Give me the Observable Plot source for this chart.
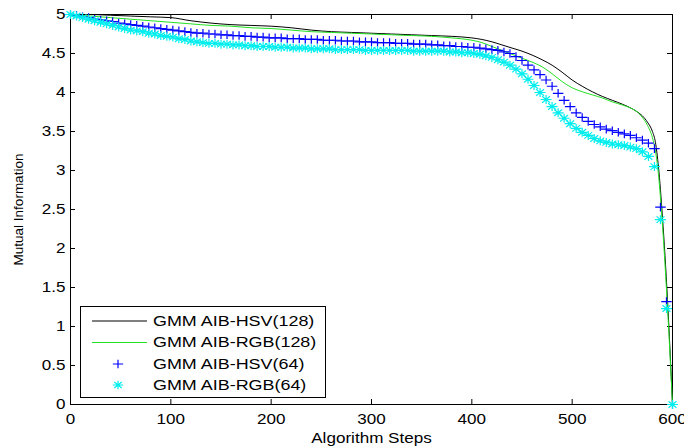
<!DOCTYPE html>
<html><head><meta charset="utf-8">
<script src="https://cdn.jsdelivr.net/npm/d3@7"></script>
<script src="https://cdn.jsdelivr.net/npm/@observablehq/plot@0.6"></script>
<style>
body{margin:0;background:#fff}
#chart{width:684px;height:448px}
</style>
</head><body><div id="chart"></div>
<script>
const xTicks = [0,100,200,300,400,500,600];
const yTicks = [0,0.5,1,1.5,2,2.5,3,3.5,4,4.5,5];
const seriesNames = ["GMM AIB-HSV(128)","GMM AIB-RGB(128)","GMM AIB-HSV(64)","GMM AIB-RGB(64)"];
const xLabel = "Algorithm Steps";
const yLabel = "Mutual Information";

const steps128 = [0,20,40,60,80,100,120,140,160,180,200,220,240,260,280,300,320,340,360,380,400,410,420,430,440,450,460,470,480,490,500,510,520,530,540,550,560,565,570,575,580,583,586,590,595,600];
const hsv128 = [5.00,5.00,4.99,4.98,4.97,4.96,4.92,4.89,4.87,4.86,4.85,4.83,4.80,4.78,4.77,4.76,4.75,4.74,4.73,4.72,4.70,4.68,4.65,4.61,4.57,4.53,4.48,4.42,4.35,4.26,4.16,4.08,4.01,3.95,3.90,3.85,3.79,3.75,3.70,3.62,3.50,3.36,3.05,2.40,1.35,0.00];
const rgb128 = [5.00,4.98,4.96,4.94,4.92,4.90,4.88,4.86,4.85,4.83,4.82,4.80,4.78,4.77,4.76,4.75,4.74,4.73,4.72,4.70,4.67,4.64,4.59,4.54,4.49,4.44,4.39,4.33,4.24,4.14,4.06,4.01,3.97,3.93,3.88,3.84,3.79,3.75,3.68,3.58,3.42,3.25,2.95,2.30,1.25,0.00];

const steps64 = [0,6,12,18,24,30,36,42,48,54,60,66,72,78,84,90,96,102,108,114,120,126,132,138,144,150,156,162,168,174,180,186,192,198,204,210,216,222,228,234,240,246,252,258,264,270,276,282,288,294,300,306,312,318,324,330,336,342,348,354,360,366,372,378,384,390,396,402,408,414,420,426,432,438,444,450,456,462,468,474,480,486,492,498,504,510,516,522,528,534,540,546,552,558,564,570,576,582,588,594,600];
const hsv64 = [5.00,4.99,4.97,4.96,4.94,4.93,4.92,4.91,4.89,4.88,
4.87,4.86,4.85,4.84,4.83,4.82,4.81,4.80,4.79,4.78,
4.77,4.76,4.76,4.75,4.75,4.74,4.74,4.73,4.73,4.72,
4.72,4.71,4.71,4.70,4.70,4.70,4.69,4.69,4.69,4.68,
4.68,4.68,4.67,4.67,4.67,4.66,4.66,4.66,4.65,4.65,
4.65,4.64,4.64,4.64,4.63,4.63,4.63,4.62,4.62,4.62,
4.61,4.61,4.60,4.60,4.59,4.59,4.58,4.58,4.57,4.56,
4.55,4.54,4.52,4.50,4.46,4.41,4.35,4.29,4.23,4.16,
4.08,3.99,3.90,3.82,3.74,3.68,3.63,3.59,3.56,3.53,
3.51,3.49,3.47,3.45,3.42,3.39,3.35,3.28,2.53,1.32,
0.00];
const rgb64 = [5.00,4.98,4.96,4.94,4.92,4.90,4.88,4.86,4.84,4.82,
4.80,4.79,4.78,4.76,4.75,4.73,4.72,4.71,4.69,4.68,
4.66,4.65,4.64,4.63,4.63,4.62,4.62,4.61,4.61,4.60,
4.60,4.59,4.59,4.59,4.58,4.58,4.58,4.57,4.57,4.57,
4.56,4.56,4.56,4.56,4.55,4.55,4.55,4.55,4.55,4.54,
4.54,4.54,4.54,4.54,4.54,4.54,4.54,4.53,4.53,4.53,
4.53,4.53,4.53,4.52,4.52,4.51,4.51,4.50,4.49,4.47,
4.45,4.42,4.39,4.35,4.30,4.24,4.17,4.09,4.00,3.91,
3.82,3.74,3.67,3.60,3.54,3.49,3.45,3.41,3.38,3.36,
3.34,3.33,3.32,3.30,3.28,3.24,3.18,3.05,2.37,1.23,
0.00];

const colors = ["#000000","#22e022","#0000ff","#00eeee"];
const data128 = steps128.map((s,i)=>({s, hsv:hsv128[i], rgb:rgb128[i]}));
const data64 = steps64.map((s,i)=>({s, hsv:hsv64[i], rgb:rgb64[i]}));

const SX = 1.22; // horizontal stretch of the original picture
const SXL = 1.28; // stretch of legend texts
const plusSym = {draw(ctx,size){const r=Math.sqrt(size/Math.PI);ctx.moveTo(-r*SX,0);ctx.lineTo(r*SX,0);ctx.moveTo(0,-r);ctx.lineTo(0,r);}};
const starSym = {draw(ctx,size){const r=Math.sqrt(size/Math.PI);const d=r*0.72;
  ctx.moveTo(-r*SX,0);ctx.lineTo(r*SX,0);ctx.moveTo(0,-r);ctx.lineTo(0,r);
  ctx.moveTo(-d*SX,-d);ctx.lineTo(d*SX,d);ctx.moveTo(-d*SX,d);ctx.lineTo(d*SX,-d);}};

const W=684,H=448,ML=70,MR=12,MT=14,MB=44;
const FW=W-ML-MR, FH=H-MT-MB, TL=5;
const font = "'Liberation Sans', Arial, sans-serif";

const svg = Plot.plot({
  width:W, height:H, marginLeft:ML, marginRight:MR, marginTop:MT, marginBottom:MB,
  x:{domain:[0,600]}, y:{domain:[0,5]},
  style:{fontFamily:font, fontSize:"14px", color:"black", background:"white", overflow:"visible"},
  marks:[
    Plot.axisX({anchor:"bottom", ticks:xTicks, tickSize:0, tickPadding:10, tickFormat:d=>String(d), label:null, fontSize:14}),
    Plot.axisY({anchor:"left", ticks:yTicks, tickSize:0, tickPadding:5, tickFormat:d=>String(d), label:null, fontSize:14}),
    Plot.tickX(xTicks,{x:d=>d, insetTop:FH-TL, stroke:"black"}),
    Plot.tickX(xTicks,{x:d=>d, insetBottom:FH-TL, stroke:"black"}),
    Plot.tickY(yTicks,{y:d=>d, insetRight:FW-TL, stroke:"black"}),
    Plot.tickY(yTicks,{y:d=>d, insetLeft:FW-TL, stroke:"black"}),
    Plot.frame({stroke:"black", strokeWidth:1}),
    Plot.text([xLabel],{text:d=>d, frameAnchor:"bottom", textAnchor:"middle", lineAnchor:"middle", dy:34, fontSize:14}),
    Plot.text([yLabel],{text:d=>d, frameAnchor:"left", textAnchor:"middle", lineAnchor:"middle", dx:-52, rotate:-90, fontSize:13.5}),
    Plot.line(data128,{x:"s", y:"hsv", stroke:colors[0], strokeWidth:1, curve:"monotone-x"}),
    Plot.line(data128,{x:"s", y:"rgb", stroke:colors[1], strokeWidth:1, curve:"monotone-x"}),
    Plot.dot(data64,{x:"s", y:"hsv", symbol:plusSym, r:4.3, fill:"none", stroke:colors[2], strokeWidth:1.2}),
    Plot.dot(data64,{x:"s", y:"rgb", symbol:starSym, r:4.5, fill:"none", stroke:colors[3], strokeWidth:1.2})
  ]
});
document.getElementById("chart").appendChild(svg);

// horizontal stretch of texts to match the original picture
function stretch(sel, k){
  sel.each(function(){
    const t = this.getAttribute("transform")||"";
    if (t.includes("rotate")) return;
    const L = this.getComputedTextLength();
    if (L>0){ this.setAttribute("textLength", L*k); this.setAttribute("lengthAdjust","spacingAndGlyphs"); }
  });
}
stretch(d3.select(svg).selectAll("text"), SX);

// legend
const g = d3.select(svg).append("g").attr("font-family",font).attr("font-size",14).attr("text-anchor","start");
g.append("rect").attr("x",80.5).attr("y",306.5).attr("width",245).attr("height",91)
  .attr("fill","white").attr("stroke","black").attr("stroke-width",1);
const rowY = [321, 342.5, 364, 385];
seriesNames.forEach((name,i)=>{
  const y = rowY[i];
  if (i<2) {
    g.append("line").attr("x1",92).attr("x2",147).attr("y1",y).attr("y2",y)
      .attr("stroke",colors[i]).attr("stroke-width",1);
  } else {
    g.append("path").attr("transform",`translate(118,${y})`)
      .attr("d", d3.symbol(i===2?plusSym:starSym, 18*Math.PI)())
      .attr("fill","none").attr("stroke",colors[i]).attr("stroke-width",1.2);
  }
  g.append("text").attr("x",153).attr("y",y).attr("dy","0.35em").attr("text-anchor","start").attr("fill","black").text(name);
});
stretch(g.selectAll("text"), SXL);
</script>
</body></html>
